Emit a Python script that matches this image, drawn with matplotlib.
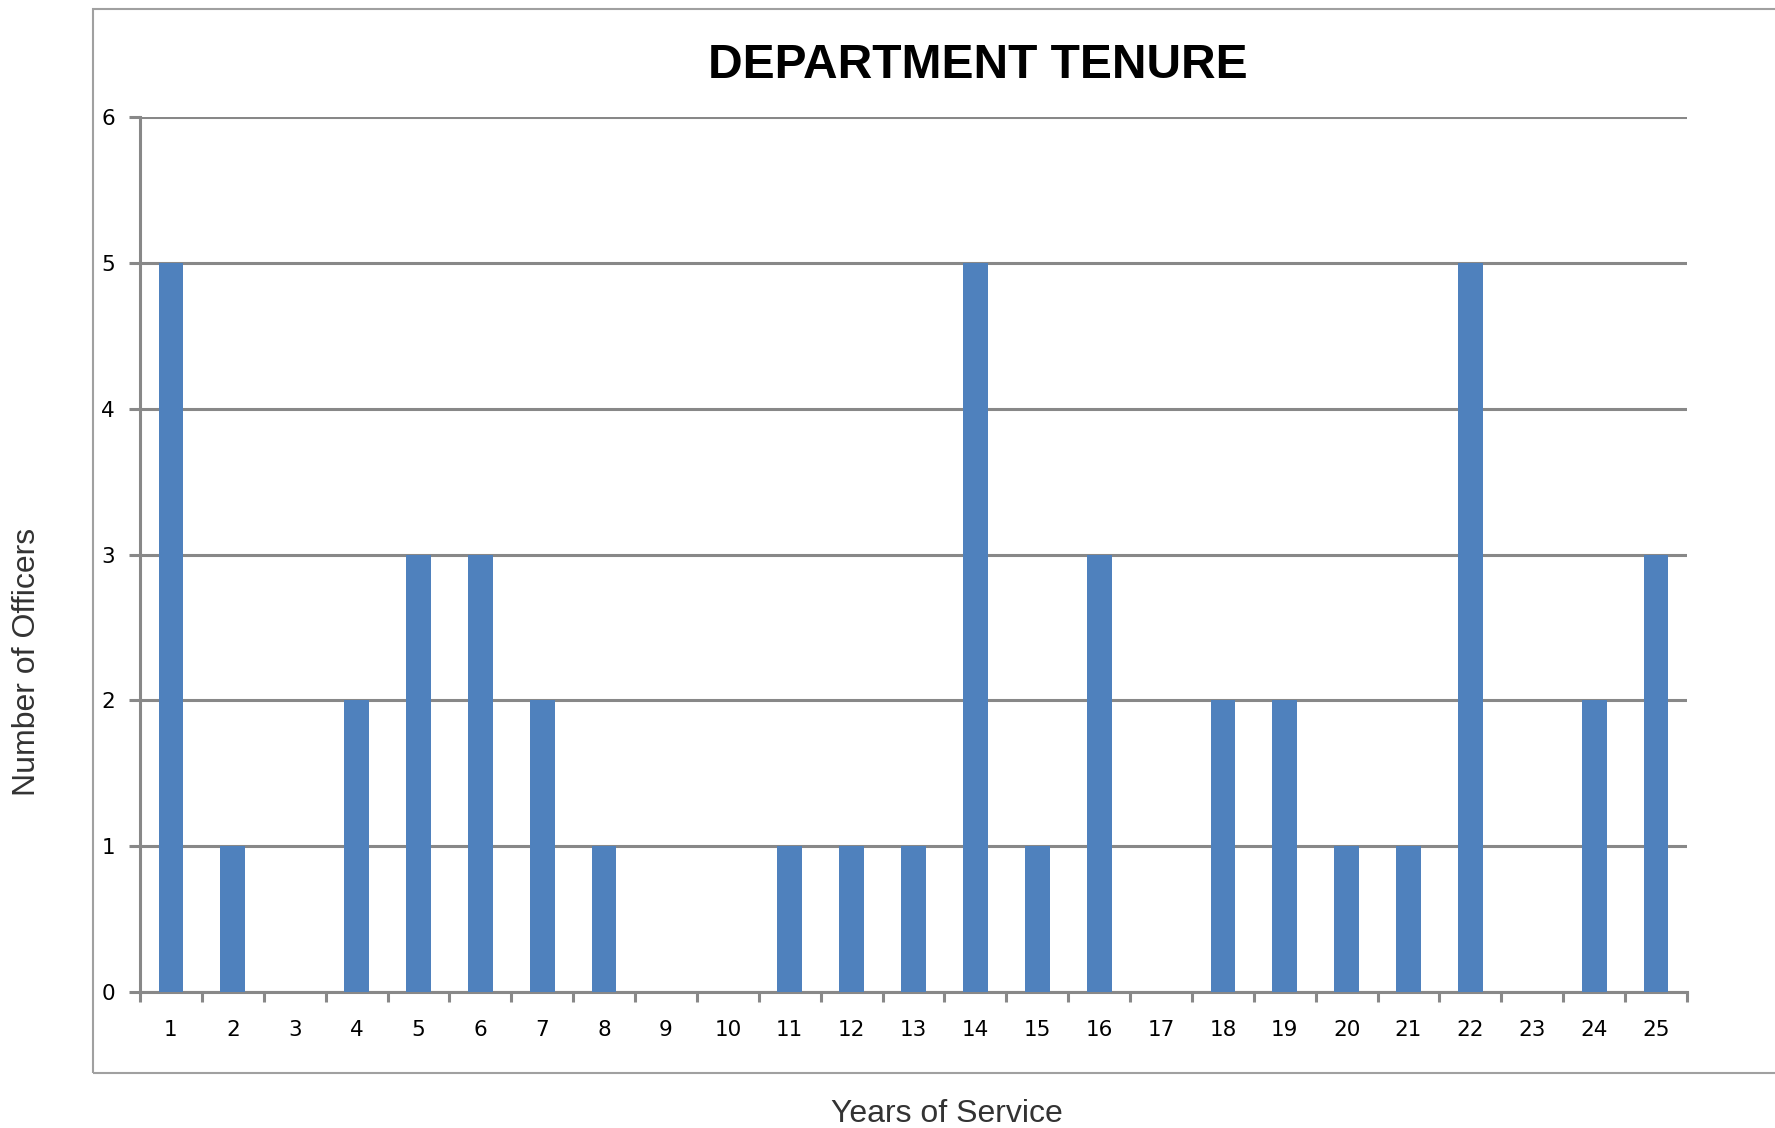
import numpy as np
import matplotlib
matplotlib.use("Agg")
import matplotlib.pyplot as plt
from matplotlib.patches import Rectangle

# Data
years = [str(y) for y in range(1, 26)]
officers = [5, 1, 0, 2, 3, 3, 2, 1, 0, 0, 1, 1, 1, 5, 1, 3, 0, 2, 2, 1, 1, 5, 0, 2, 3]
y_ticks = [0, 1, 2, 3, 4, 5, 6]

bar_color = "#4F81BD"
line_gray = "#888888"

fig = plt.figure(figsize=(17.75, 11.28), dpi=100)
ax = fig.add_axes([140 / 1775, 1 - 992 / 1128, (1687 - 140) / 1775, (992 - 117) / 1128])

x = np.arange(1, len(years) + 1)
ax.bar(x, officers, width=0.4, color=bar_color, zorder=3)

ax.set_xlim(0.5, len(years) + 0.5)
ax.set_ylim(0, 6)

# y axis
ax.set_yticks(y_ticks)
ax.tick_params(axis="y", direction="out", length=8, width=2.2, color=line_gray,
               labelsize=15.5, pad=10)
ax.yaxis.grid(True, color=line_gray, linewidth=2.2, zorder=0)

# x axis: labels at centers, tick marks at category boundaries
ax.set_xticks(x)
ax.set_xticklabels(years)
ax.set_xticks(np.arange(0.5, len(years) + 1), minor=True)
ax.tick_params(axis="x", which="major", length=0, labelsize=15.5, pad=20)
ax.tick_params(axis="x", which="minor", direction="out", length=7, width=2.2, color=line_gray)

for s in ["top", "right"]:
    ax.spines[s].set_visible(False)
for s in ["left", "bottom"]:
    ax.spines[s].set_color(line_gray)
    ax.spines[s].set_linewidth(2.2)

# chart frame (runs off the right edge, as in the screenshot)
fig.patches.append(Rectangle((93 / 1775, 1 - 1073 / 1128), 1.0, (1073 - 9) / 1128,
                             transform=fig.transFigure, fill=False,
                             edgecolor="#a0a0a0", linewidth=1.5))

fig.text(978 / 1775, 1 - 65 / 1128, "DEPARTMENT TENURE", ha="center", va="center",
         fontsize=34.5, fontweight="bold", family="Liberation Sans")
fig.text(947 / 1775, 1 - 1114 / 1128, "Years of Service", ha="center", va="center",
         fontsize=23, family="Liberation Sans", color="#333333")
fig.text(27 / 1775, 1 - 662 / 1128, "Number of Officers", ha="center", va="center",
         rotation=90, fontsize=23, family="Liberation Sans", color="#333333")

fig.savefig("out.png", dpi=100)
